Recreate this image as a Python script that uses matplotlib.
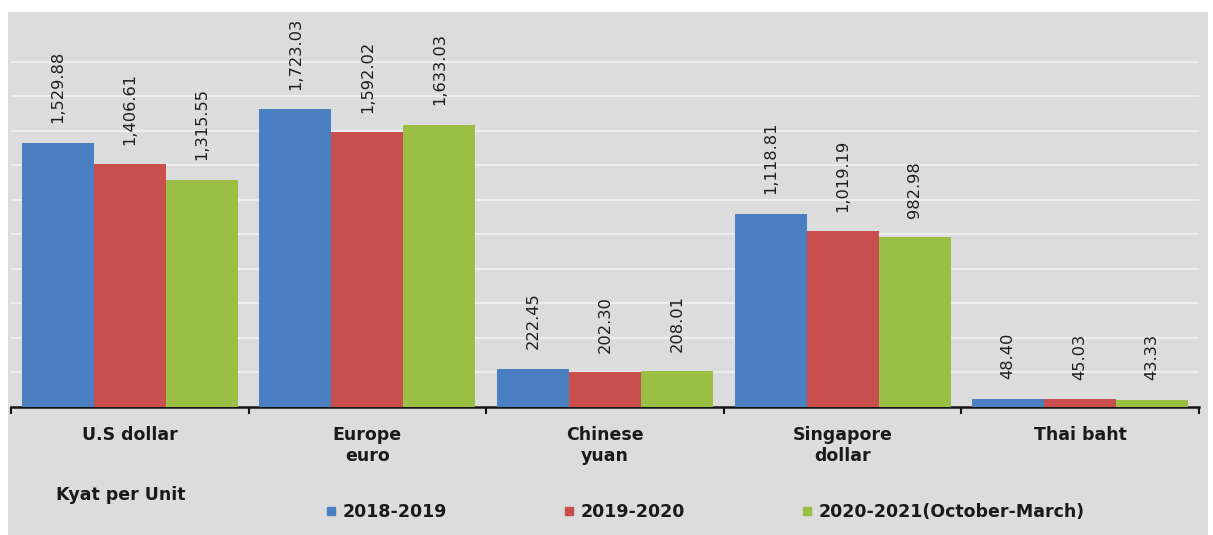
import numpy as np
import matplotlib.pyplot as plt
from matplotlib.lines import Line2D
from matplotlib.patches import Rectangle

# Kyat per unit of foreign currency
currencies = ["U.S dollar", "Europe\neuro", "Chinese\nyuan", "Singapore\ndollar", "Thai baht"]
periods = ["2018-2019", "2019-2020", "2020-2021(October-March)"]
rate_2018_19 = [1529.88, 1723.03, 222.45, 1118.81, 48.40]
rate_2019_20 = [1406.61, 1592.02, 202.30, 1019.19, 45.03]
rate_2020_21 = [1315.55, 1633.03, 208.01, 982.98, 43.33]

colors = ["#4a7fc1", "#c84f4e", "#9bbf45"]
bg = "#dcdcdc"

fig = plt.figure(figsize=(12.13, 5.35), dpi=100)
fig.patch.set_facecolor("white")
fig.patches.append(Rectangle((8 / 1213, 0), 1200 / 1213, 523 / 535,
                             transform=fig.transFigure, facecolor=bg,
                             edgecolor="none", zorder=-1))

ax = fig.add_axes([11 / 1213, 128 / 535, 1188 / 1213, 380 / 535])
ax.set_facecolor("none")
ax.set_zorder(2)

x = np.arange(len(currencies))
width = 0.303
series = [rate_2018_19, rate_2019_20, rate_2020_21]
for i, vals in enumerate(series):
    bars = ax.bar(x + (i - 1) * width, vals, width, color=colors[i],
                  label=periods[i], zorder=3)
    for b, v in zip(bars, vals):
        ax.annotate(f"{v:,.2f}", (b.get_x() + b.get_width() / 2, v),
                    xytext=(0, 14), textcoords="offset points",
                    rotation=90, ha="center", va="bottom",
                    fontsize=11.7, color="#1e1e1e")

ax.set_xlim(-0.5, len(currencies) - 0.5)
ax.set_ylim(0, 2200)
ax.set_yticks(np.arange(200, 2001, 200))
ax.yaxis.grid(True, color="#f2f2f2", linewidth=1.2, zorder=1)
ax.tick_params(axis="y", left=False, labelleft=False)

for s in ["top", "right", "left"]:
    ax.spines[s].set_visible(False)
ax.spines["bottom"].set_color("#141414")
ax.spines["bottom"].set_linewidth(1.8)

ax.set_xticks(x)
ax.set_xticklabels(currencies, fontsize=12.5, fontweight="bold", color="#1a1a1a")
ax.tick_params(axis="x", which="major", length=0, pad=14)
ax.set_xticks(np.arange(-0.5, len(currencies), 1), minor=True)
ax.tick_params(axis="x", which="minor", length=5, width=1.5, color="#141414")

fig.text(56 / 1213, 1 - 500 / 535, "Kyat per Unit", fontsize=12.5,
         fontweight="bold", color="#1a1a1a", va="baseline", ha="left")

handles = [Line2D([], [], marker="s", linestyle="none", markersize=6,
                  color=c) for c in colors]
fig.legend(handles, periods, loc="center left",
           bbox_to_anchor=(327 / 1213, 1 - 512 / 535), ncol=3,
           frameon=False, borderpad=0, borderaxespad=0,
           handlelength=0.5, handletextpad=0.4, columnspacing=6.8,
           prop={"size": 12.5, "weight": "bold"}, labelcolor="#1a1a1a")

fig.savefig("out.png", dpi=100, facecolor=fig.get_facecolor())
